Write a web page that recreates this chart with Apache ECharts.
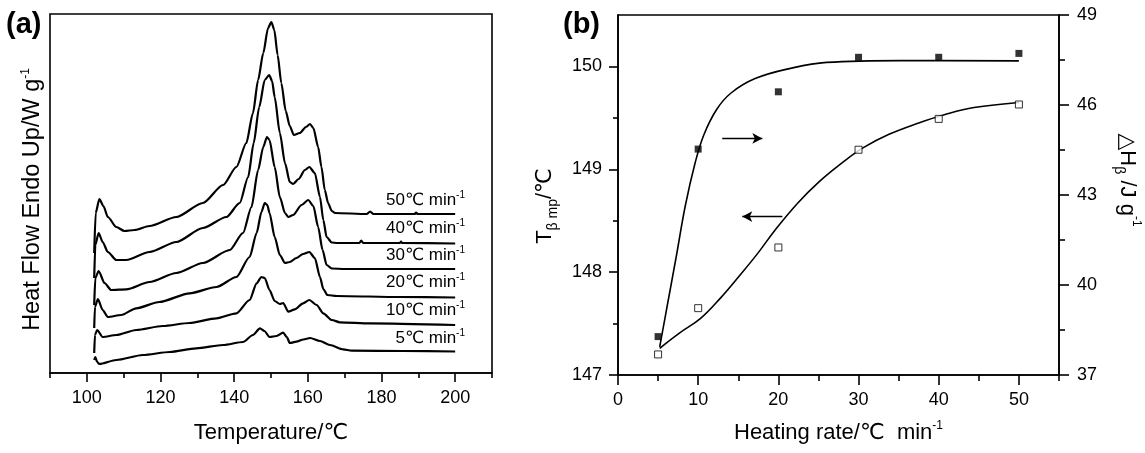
<!DOCTYPE html>
<html>
<head>
<meta charset="utf-8">
<script src="https://cdn.jsdelivr.net/npm/echarts@6/dist/echarts.min.js"></script>
<style>
  html, body { margin: 0; padding: 0; background: #fff; }
  #chart { width: 1145px; height: 453px; }
</style>
</head>
<body>
<div id="chart"></div>
<script>
// (a) DSC curves: [temperature °C, heat flow (arb. units, stacked)]
const curve5 = [[102.0,13],[102.3,16],[102.8,11],[103.4,9],[108,13],[115.2,18],[122.5,21],[129.7,24.7],[137,28],[142.4,31],[145.1,38],[147.0,44.7],[148.2,42],[149.6,36],[151.5,37],[153.3,40.3],[154.3,36],[155.1,30],[156.9,31.3],[158.8,33.5],[160.6,35],[163.3,32],[166,28],[169.6,23.7],[171.9,22.3],[186,22],[200,21.5]]
const curve10 = [[102.0,20],[102.2,38],[102.8,43],[104.3,36],[108,38],[113.4,43],[120.6,47],[127.9,50],[135.2,54.7],[140.6,59.7],[144.2,73],[146.1,89.7],[147.4,96],[148.3,95],[149.6,83],[151,72],[152.4,69],[153.3,70],[154.7,61.3],[156.5,63.7],[158.7,69.7],[160.4,73],[162.4,68],[164.2,59.7],[166.5,53],[168.7,50.7],[176.9,49.7],[200,48]]
const curve20 = [[102.0,45],[102.2,66],[103.0,74],[104.3,63],[105.7,56],[109.3,58],[113.4,64.7],[119.7,71],[127.9,79.7],[135.2,86],[140.6,96],[144.2,116],[146.1,140],[147.4,161],[148.3,170],[149.0,168],[149.6,160],[151,136],[152.4,118],[153.8,110],[155.1,111],[156.9,115],[158.7,119],[160.4,121],[161.9,115],[163.3,96],[164.2,84],[165.3,78],[167.8,77],[185,76],[200,75.5]]
const curve30 = [[102.0,68],[102.3,95],[103.2,102],[104.8,90],[106.6,83],[110.7,83.7],[117.0,91],[124.3,100],[131.5,110],[138.8,123],[142.4,140],[144.7,166],[146.5,203],[147.9,226],[148.9,236],[149.6,233],[151,206],[152.4,176],[153.8,160],[154.7,156],[156,158],[158.3,168],[160.1,173],[161.5,167],[162.8,146],[164,123],[165.1,108],[166.5,104.5],[170,104],[200,104]]
const curve40 = [[102.0,95],[102.3,128],[103.2,140],[104.3,131],[105.7,121],[108,113],[110.7,113],[117.0,121],[124.3,131],[131.5,145],[137.9,156],[141.5,170],[143.8,196],[145.3,230],[146.8,266],[148.3,293],[149.5,298],[150.3,292],[151,276],[152.4,240],[153.8,210],[155.1,191],[156.0,189],[157.5,194],[159.2,203],[160.4,206],[161.9,200],[163.3,176],[164.2,153],[165.1,136],[166.5,130.5],[168,130],[174,130],[174.5,132.5],[175,130],[185,130],[185.3,131.5],[185.6,130],[200,129.5]]
const curve50 = [[102.0,120],[102.4,160],[103.4,174],[104.5,167],[105.7,156],[108.0,146],[110.2,142],[113,143],[117.0,147],[124.3,156],[131.5,170],[137.0,188],[140.6,206],[143.3,230],[145.1,260],[146.5,293],[147.9,320],[149.2,345],[150.1,351],[150.9,343],[151.8,318],[152.8,290],[154.0,262],[155.1,247],[156.2,238],[157.8,240],[159.5,246],[160.6,249],[161.5,245],[162.8,226],[163.7,206],[164.6,183],[165.5,170],[166.5,162],[167.4,160],[176,159],[176.9,161.5],[177.8,159],[189,159],[189.4,160.5],[189.8,159],[200,159]]
const rateLabels = ['5', '10', '20', '30', '40', '50']
const aMajorX = [100, 120, 140, 160, 180, 200]
const aMinorX = [90, 110, 130, 150, 170, 190, 210]

// (b) heating rate vs peak temperature and enthalpy
const rates = [5, 10, 20, 30, 40, 50]
const tPeak = [147.20, 147.65, 148.24, 149.19, 149.49, 149.63]
const dH = [38.28, 44.53, 46.44, 47.59, 47.59, 47.72]
const tPeakFit = [[5.2,147.26],[7.7,147.41],[10.3,147.55],[12.8,147.75],[15.1,147.96],[17.4,148.18],[19.6,148.41],[22.4,148.67],[25.1,148.88],[27.9,149.06],[30.6,149.21],[33.8,149.34],[37.5,149.45],[40.7,149.53],[44.4,149.60],[50,149.65]]
const dHFit = [[5.2,37.94],[6.1,39.25],[7.3,41.0],[8.4,42.65],[9.6,44.05],[10.7,45.0],[12.3,45.85],[14.1,46.4],[17.1,46.88],[21.5,47.22],[26.0,47.42],[35.2,47.48],[50,47.47]]
const arrowRight = [[13.0, 149.30], [18.0, 149.30]]
const arrowLeft = [[20.5, 148.54], [15.5, 148.54]]
const bMajorX = [0, 10, 20, 30, 40, 50]
const bMinorX = [5, 15, 25, 35, 45, 55]
const bMajorL = [147, 148, 149, 150]
const bMinorL = [147.5, 148.5, 149.5]
const bMajorR = [37, 40, 43, 46, 49]
const bMinorR = [38.5, 41.5, 44.5, 47.5]

const FONT = '"Liberation Sans", "DejaVu Sans", Arial, sans-serif'
const BLACK = '#000'
const axisLine = { show: true, lineStyle: { color: BLACK, width: 1.6 } }
const tickLabel = { color: BLACK, fontSize: 18, fontFamily: FONT }
const supStyle = { fontSize: 12, lineHeight: 12, verticalAlign: 'top', fontFamily: FONT, color: BLACK }
const subStyle = { fontSize: 14, lineHeight: 14, verticalAlign: 'bottom', fontFamily: FONT, color: BLACK }

function majorTicks(values, len) {
  return { show: true, length: len, customValues: values, lineStyle: { color: BLACK, width: 1.6 } }
}
function minorAxis(base, values, len) {
  return Object.assign({}, base, {
    axisLine: { show: false },
    axisLabel: { show: false },
    splitLine: { show: false },
    axisTick: majorTicks(values, len)
  })
}

const myCharts = echarts.init(document.getElementById('chart'))

const curves = [curve5, curve10, curve20, curve30, curve40, curve50]
const rateY = [338, 310, 282, 255, 228, 200]

const aX = { type: 'value', gridIndex: 0, min: 90, max: 210, position: 'bottom' }
const bX = { type: 'value', gridIndex: 1, min: 0, max: 55, position: 'bottom' }
const bL = { type: 'value', gridIndex: 1, min: 147, max: 150.5, position: 'left' }
const bR = { type: 'value', gridIndex: 1, min: 37, max: 49, position: 'right' }

const options = {
  animation: false,
  backgroundColor: '#fff',
  grid: [
    { left: 50, top: 14, width: 442, height: 359, show: true, borderColor: BLACK, borderWidth: 1.6 },
    { left: 618, top: 15, width: 441, height: 360, show: true, borderColor: BLACK, borderWidth: 1.6 }
  ],
  xAxis: [
    Object.assign({}, aX, {
      axisLine: axisLine,
      axisTick: majorTicks(aMajorX, 9),
      axisLabel: Object.assign({ margin: 16, customValues: aMajorX }, tickLabel),
      splitLine: { show: false },
      name: 'Temperature/℃',
      nameLocation: 'middle',
      nameGap: 47,
      nameTextStyle: { fontSize: 22, lineHeight: 26, fontFamily: FONT, color: BLACK }
    }),
    minorAxis(aX, aMinorX, 5),
    Object.assign({}, bX, {
      axisLine: axisLine,
      axisTick: majorTicks(bMajorX, 10),
      axisLabel: Object.assign({ margin: 16, customValues: bMajorX }, tickLabel),
      splitLine: { show: false },
      name: 'Heating rate/℃  min{sup|-1}',
      nameLocation: 'middle',
      nameGap: 45,
      nameTextStyle: { fontSize: 22, lineHeight: 26, fontFamily: FONT, color: BLACK, rich: { sup: supStyle } }
    }),
    minorAxis(bX, bMinorX, 6)
  ],
  yAxis: [
    {
      type: 'value', gridIndex: 0, min: 0, max: 359,
      axisLine: { show: false }, axisTick: { show: false }, axisLabel: { show: false }, splitLine: { show: false },
      name: 'Heat Flow Endo Up/W g{sup|-1}',
      nameLocation: 'middle',
      nameGap: 4,
      nameTextStyle: { fontSize: 23.5, lineHeight: 26, fontFamily: FONT, color: BLACK, padding: [0, 12, 0, 0], rich: { sup: supStyle } }
    },
    Object.assign({}, bL, {
      axisLine: axisLine,
      axisTick: majorTicks(bMajorL, 9),
      axisLabel: Object.assign({ margin: 16, customValues: bMajorL }, tickLabel),
      splitLine: { show: false },
      name: 'T{sub|β mp}/℃',
      nameLocation: 'middle',
      nameGap: 58,
      nameTextStyle: { fontSize: 22, lineHeight: 30, fontFamily: FONT, color: BLACK, padding: [0, 22, 0, 0], rich: { sub: subStyle } }
    }),
    minorAxis(bL, bMinorL, 5),
    Object.assign({}, bR, {
      axisLine: axisLine,
      axisTick: majorTicks(bMajorR, 10),
      axisLabel: Object.assign({ margin: 18, customValues: bMajorR }, tickLabel),
      splitLine: { show: false },
      name: '△H{sub|β} /J g{sup|-1}',
      nameLocation: 'middle',
      nameRotate: -90,
      nameGap: 53,
      nameTextStyle: { fontSize: 22, lineHeight: 30, fontFamily: FONT, color: BLACK, padding: [0, 30, 0, 0], rich: { sub: subStyle, sup: supStyle } }
    }),
    minorAxis(bR, bMinorR, 6)
  ],
  series: curves.map((c, i) => ({
    name: rateLabels[i],
    type: 'line',
    xAxisIndex: 0,
    yAxisIndex: 0,
    data: c,
    showSymbol: false,
    smooth: 0.25,
    smoothMonotone: 'x',
    lineStyle: { color: BLACK, width: 2.2 },
    z: 3
  })).concat([
    {
      type: 'line', xAxisIndex: 2, yAxisIndex: 1,
      data: tPeakFit, showSymbol: false, smooth: 0.4,
      lineStyle: { color: BLACK, width: 1.6 },
      markLine: {
        silent: true,
        symbol: ['none', 'arrow'],
        symbolSize: [8, 10],
        label: { show: false },
        lineStyle: { color: BLACK, width: 1.4, type: 'solid' },
        data: [
          [{ coord: arrowRight[0] }, { coord: arrowRight[1] }],
          [{ coord: arrowLeft[0] }, { coord: arrowLeft[1] }]
        ]
      }
    },
    {
      type: 'line', xAxisIndex: 2, yAxisIndex: 3,
      data: dHFit, showSymbol: false, smooth: 0.4,
      lineStyle: { color: BLACK, width: 1.6 }
    },
    {
      type: 'scatter', xAxisIndex: 2, yAxisIndex: 1,
      data: rates.map((r, i) => [r, tPeak[i]]),
      symbol: 'rect', symbolSize: 7,
      itemStyle: { color: '#fff', borderColor: BLACK, borderWidth: 1 },
      z: 5
    },
    {
      type: 'scatter', xAxisIndex: 2, yAxisIndex: 3,
      data: rates.map((r, i) => [r, dH[i]]),
      symbol: 'rect', symbolSize: 7,
      itemStyle: { color: BLACK },
      z: 5
    }
  ]),
  graphic: [
    { type: 'text', left: 6, top: 10, style: { text: '(a)', font: 'bold 29px ' + FONT, fill: BLACK } },
    { type: 'text', left: 563, top: 10, style: { text: '(b)', font: 'bold 29px ' + FONT, fill: BLACK } }
  ].concat(rateLabels.map((r, i) => ({
    type: 'text',
    x: 465,
    y: rateY[i],
    style: {
      text: r + '℃ min{sup|-1}',
      align: 'right',
      verticalAlign: 'middle',
      fontSize: 17,
      lineHeight: 20,
      fontFamily: FONT,
      fill: BLACK,
      rich: { sup: { fontSize: 10, lineHeight: 10, verticalAlign: 'top', fontFamily: FONT, fill: BLACK } }
    }
  })))
}
myCharts.setOption(options)
</script>
</body>
</html>
